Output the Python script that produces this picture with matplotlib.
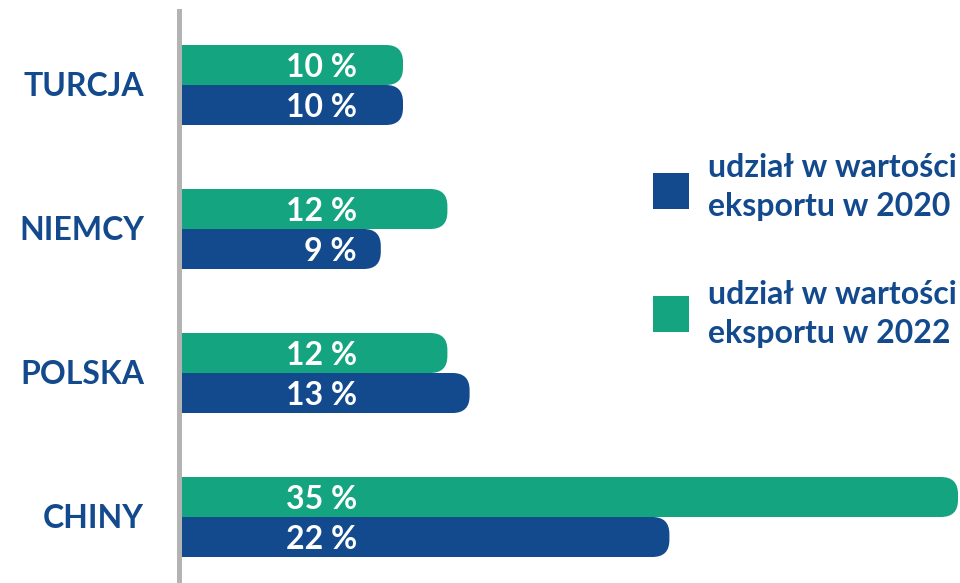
import matplotlib.pyplot as plt
from matplotlib.patches import FancyBboxPatch, Rectangle

plt.rcParams["font.family"] = ["Lato", "DejaVu Sans"]

countries = ["TURCJA", "NIEMCY", "POLSKA", "CHINY"]
share_2022 = [10, 12, 12, 35]
share_2020 = [10, 9, 13, 22]
legend_labels = [
  ("udział w wartości", "eksportu w 2020"),
  ("udział w wartości", "eksportu w 2022"),
]

BLUE = "#134A8D"
GREEN = "#14A47F"
GREY = "#B3B3B3"

W, H = 960, 583
PX_PER_PCT = 22.2
LEFT = 181
ROW_PX = 144
FIRST_ROW = 85
BAR_PX = 40
RADIUS_PX = 17

fig = plt.figure(figsize=(W / 100, H / 100), dpi=100)
ax = fig.add_axes([LEFT / W, 0, (W - LEFT) / W, 1])
ax.set_xlim(0, (W - LEFT) / PX_PER_PCT)
ax.set_ylim((H - FIRST_ROW) / ROW_PX, -FIRST_ROW / ROW_PX)
ax.axis("off")

bar_h = BAR_PX / ROW_PX
radius = RADIUS_PX / PX_PER_PCT
aspect = PX_PER_PCT / ROW_PX


def rounded_bar(y_top, value, color):
  # rounded right end, square left end
  ax.add_patch(FancyBboxPatch(
    (0, y_top), value, bar_h,
    boxstyle=f"round,pad=0,rounding_size={radius}",
    mutation_aspect=aspect, facecolor=color, edgecolor="none",
  ))
  ax.add_patch(Rectangle((0, y_top), value / 2, bar_h, facecolor=color, edgecolor="none"))


label_x = (357 - LEFT) / PX_PER_PCT
for i, (name, v22, v20) in enumerate(zip(countries, share_2022, share_2020)):
  rounded_bar(i - bar_h, v22, GREEN)
  rounded_bar(i, v20, BLUE)
  ax.text(label_x, i - bar_h / 2, f"{v22} %", ha="right", va="center_baseline",
          color="white", fontsize=23, fontweight="bold")
  ax.text(label_x, i + bar_h / 2, f"{v20} %", ha="right", va="center_baseline",
          color="white", fontsize=23, fontweight="bold")
  ax.text(-(LEFT - 144) / PX_PER_PCT, i - 0.01, name, ha="right", va="center_baseline",
          color=BLUE, fontsize=23, fontweight="bold", clip_on=False)

# vertical axis line
ax.axvline(-2.5 / PX_PER_PCT, ymin=0, ymax=1 - 11 / H, color=GREY, lw=5 * 72 / 100,
           clip_on=False)

# legend
for (line1, line2), color, sq_top, base1 in zip(legend_labels, [BLUE, GREEN], [173, 296], [177, 304]):
  fig.add_artist(Rectangle((653 / W, 1 - (sq_top + 36) / H), 36 / W, 36 / H,
                           transform=fig.transFigure, facecolor=color, edgecolor="none"))
  fig.text(708 / W, 1 - base1 / H, line1, ha="left", va="baseline",
           color=BLUE, fontsize=23, fontweight="bold")
  fig.text(708 / W, 1 - (base1 + 39) / H, line2, ha="left", va="baseline",
           color=BLUE, fontsize=23, fontweight="bold")

fig.savefig("out.png", dpi=100)
